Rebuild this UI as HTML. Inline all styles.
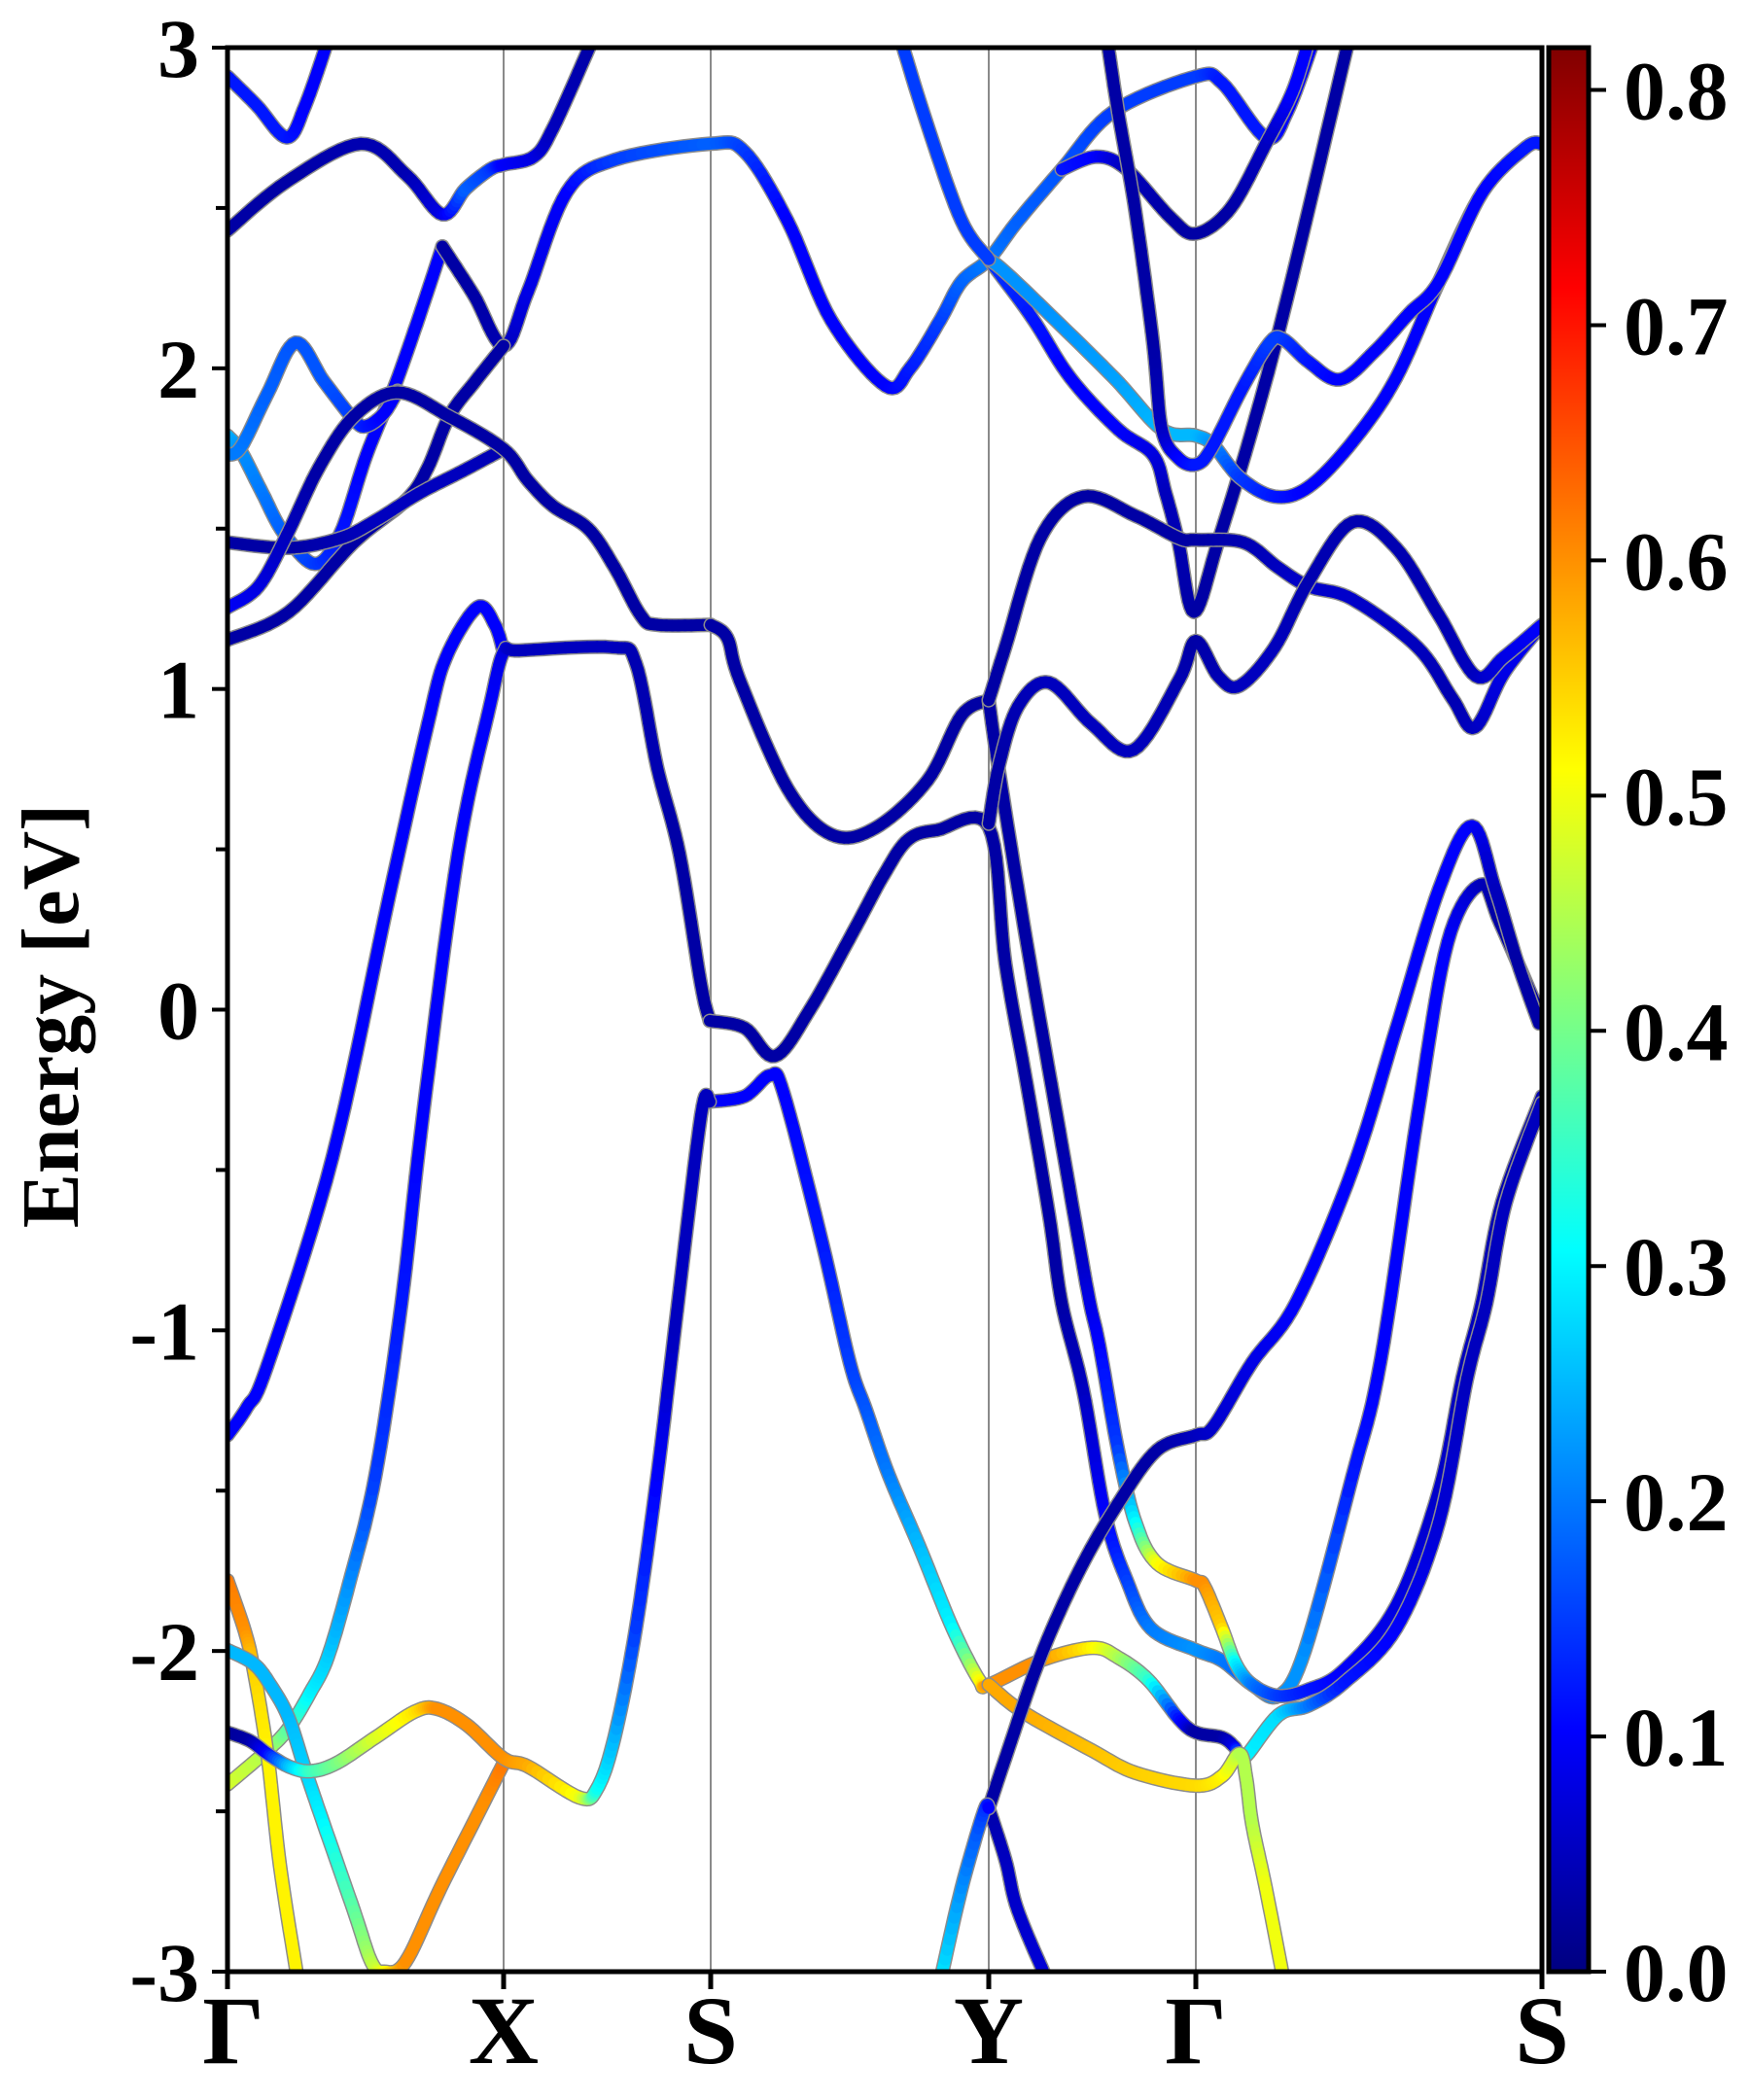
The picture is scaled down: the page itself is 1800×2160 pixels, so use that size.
<!DOCTYPE html>
<html><head><meta charset="utf-8"><style>
html,body{margin:0;padding:0;background:#fff;}
svg{display:block;}
text{font-family:"Liberation Serif","Times New Roman",serif;font-weight:bold;}
</style></head><body>
<svg id="chart" width="1800" height="2160" viewBox="0 0 1800 2160" xmlns="http://www.w3.org/2000/svg" font-family="Liberation Serif, serif" font-weight="bold">
<defs>
<clipPath id="plotclip"><rect x="234" y="49" width="1352" height="1979"/></clipPath>
<linearGradient id="jetgrad" x1="0" y1="1" x2="0" y2="0">
<stop offset="0" stop-color="#000080"/><stop offset="0.125" stop-color="#0000ff"/>
<stop offset="0.375" stop-color="#00ffff"/><stop offset="0.625" stop-color="#ffff00"/><stop offset="0.875" stop-color="#ff0000"/><stop offset="1" stop-color="#800000"/>
</linearGradient>
</defs>
<g id="grid"></g>
<g id="bands" clip-path="url(#plotclip)"></g>
<rect x="234" y="49" width="1352" height="1979" fill="none" stroke="#000" stroke-width="5"/>
<g id="axes"></g>
<text font-family="Liberation Serif, serif" font-weight="bold" x="0" y="0" transform="translate(80,1045) rotate(-90)" text-anchor="middle" font-size="84">Energy [eV]</text>
<rect x="1593" y="49" width="41" height="1979" fill="url(#jetgrad)" stroke="#000" stroke-width="5"/>
<g id="cbar"></g>
</svg>
<script>
const kTicks = [0, 284, 497, 783, 996, 1352];
const kLabels = ["Γ","X","S","Y","Γ","S"];
const eTicks = [3,2,1,0,-1,-2,-3];
const cbTicks = [0.0,0.1,0.2,0.3,0.4,0.5,0.6,0.7,0.8];
const b01=[[0,2.91,0.12],[30,2.82,0.12],[61,2.72,0.12],[80,2.82,0.1],[103,3.02,0.1]];
const b02=[[0,2.43,0.03],[60,2.58,0.03],[137,2.70,0.04],[185,2.6,0.04],[221,2.48,0.08],[245,2.56,0.18],[270,2.62,0.15],[284,2.635,0.1],[315,2.66,0.08],[335,2.75,0.05],[375,3.02,0.03]];
const b03=[[0,1.79,0.25],[14,1.74,0.22],[36,1.61,0.2],[58,1.485,0.18],[90,1.39,0.15],[116,1.485,0.12],[143,1.73,0.1],[172,1.945,0.1],[197,2.16,0.1],[221,2.38,0.1]];
const b04=[[221,2.38,0.03],[253,2.23,0.03],[284,2.07,0.04],[309,2.24,0.08],[349,2.55,0.1],[398,2.65,0.15],[496,2.70,0.18],[532,2.675,0.15],[576,2.46,0.1],[621,2.15,0.1],[677,1.945,0.1],[702,2.0,0.12],[733,2.15,0.15],[755,2.27,0.18],[783,2.34,0.2],[813,2.46,0.18],[858,2.62,0.17],[911,2.8,0.15],[996,2.91,0.15],[1023,2.89,0.12],[1068,2.72,0.12],[1090,2.8,0.1],[1117,3.02,0.1]];
const b05=[[0,1.73,0.2],[14,1.755,0.2],[41,1.92,0.18],[70,2.08,0.17],[99,1.96,0.17],[130,1.84,0.15],[143,1.82,0.12],[161,1.86,0.1],[175,1.93,0.1]];
const b06=[[0,1.153,0.03],[63,1.24,0.03],[130,1.457,0.03],[184,1.59,0.03],[206,1.69,0.03],[228,1.85,0.03],[255,1.96,0.03],[284,2.07,0.03]];
const b07=[[0,1.457,0.03],[63,1.44,0.03],[116,1.47,0.04],[152,1.525,0.05],[197,1.61,0.05],[242,1.68,0.05],[284,1.748,0.04]];
const b08=[[0,1.254,0.1],[32,1.32,0.08],[61,1.48,0.05],[94,1.69,0.03],[130,1.85,0.03],[175,1.925,0.03],[228,1.85,0.03],[284,1.748,0.03],[309,1.65,0.03],[335,1.57,0.03],[371,1.50,0.03],[398,1.38,0.03],[425,1.23,0.03],[442,1.2,0.03],[497,1.2,0.03]];
const b09=[[497,1.2,0.03],[514,1.16,0.03],[527,1.026,0.03],[576,0.69,0.03],[621,0.546,0.03],[666,0.566,0.03],[720,0.715,0.03],[755,0.918,0.03],[783,0.965,0.03]];
const b10=[[0,-1.327,0.1],[20,-1.24,0.1],[41,-1.11,0.1],[108,-0.46,0.1],[166,0.35,0.1],[206,0.89,0.1],[225,1.1,0.1],[257,1.255,0.1],[275,1.2,0.1],[284,1.115,0.1]];
const b11=[[0,-2.416,0.48],[41,-2.31,0.45],[63,-2.24,0.38],[85,-2.13,0.3],[103,-2.02,0.27],[125,-1.79,0.22],[152,-1.455,0.15],[179,-0.914,0.12],[201,-0.33,0.1],[237,0.485,0.1],[270,0.95,0.1],[284,1.115,0.08],[300,1.12,0.05],[396,1.13,0.05],[420,1.08,0.04],[442,0.755,0.04],[465,0.485,0.03],[487,0.079,0.03],[496,-0.035,0.03]];
const b12=[[496,-0.035,0.03],[532,-0.057,0.03],[563,-0.145,0.03],[599,0.0,0.03],[643,0.24,0.03],[675,0.42,0.03],[700,0.53,0.03],[730,0.56,0.03],[783,0.57,0.03],[800,0.146,0.03],[822,-0.23,0.03],[845,-0.64,0.03],[858,-0.914,0.03],[880,-1.185,0.05],[903,-1.577,0.1],[925,-1.78,0.15],[950,-1.93,0.2],[996,-1.997,0.22],[1023,-2.03,0.2],[1054,-2.105,0.18],[1081,-2.14,0.22],[1108,-2.0,0.22],[1157,-1.455,0.12],[1186,-1.096,0.1],[1224,-0.33,0.1],[1255,0.21,0.1],[1289,0.39,0.05],[1309,0.27,0.03],[1352,-0.03,0.03]];
const b13=[[783,0.965,0.03],[793,0.755,0.03],[822,0.21,0.03],[853,-0.33,0.03],[876,-0.73,0.05],[887,-0.914,0.08],[897,-1.05,0.1],[916,-1.374,0.15],[934,-1.6,0.3],[956,-1.726,0.5],[996,-1.78,0.6],[1005,-1.8,0.6],[1023,-1.93,0.55],[1037,-2.04,0.3],[1054,-2.105,0.2],[1081,-2.14,0.15],[1112,-2.12,0.12],[1148,-2.06,0.1],[1202,-1.86,0.08],[1246,-1.5,0.06],[1270,-1.15,0.05],[1290,-0.914,0.05],[1311,-0.6,0.04],[1352,-0.27,0.04]];
const b14=[[496,-0.287,0.1],[532,-0.27,0.1],[558,-0.205,0.1],[572,-0.26,0.1],[612,-0.73,0.12],[640,-1.1,0.15],[657,-1.25,0.17],[680,-1.45,0.2],[711,-1.67,0.25],[746,-1.93,0.3],[773,-2.09,0.5],[783,-2.105,0.6],[836,-2.03,0.6],[889,-1.99,0.52],[916,-2.02,0.45],[947,-2.09,0.35],[978,-2.21,0.12],[996,-2.254,0.03],[1023,-2.27,0.03],[1036,-2.3,0.08],[1045,-2.335,0.3],[1081,-2.2,0.28],[1112,-2.17,0.2],[1148,-2.1,0.12],[1202,-1.93,0.1],[1246,-1.6,0.07],[1275,-1.15,0.05],[1295,-0.914,0.05],[1315,-0.6,0.05],[1352,-0.29,0.05]];
const b16=[[783,-2.105,0.58],[818,-2.19,0.58],[889,-2.31,0.56],[934,-2.38,0.55],[996,-2.42,0.54],[1023,-2.39,0.52],[1041,-2.32,0.45],[1048,-2.4,0.45],[1054,-2.54,0.45],[1068,-2.74,0.5],[1086,-3.02,0.5]];
const b17=[[0,-1.78,0.62],[18,-1.94,0.6],[27,-2.06,0.55],[41,-2.32,0.52],[54,-2.67,0.52],[72,-3.02,0.52]];
const b18=[[0,-1.997,0.25],[27,-2.04,0.25],[45,-2.11,0.25],[63,-2.21,0.25],[81,-2.38,0.27],[99,-2.54,0.3],[130,-2.81,0.38],[148,-2.97,0.45],[161,-3.0,0.5],[183,-2.97,0.6],[219,-2.74,0.6],[264,-2.47,0.6],[284,-2.35,0.62]];
const b19=[[0,-2.254,0.02],[23,-2.28,0.03],[41,-2.32,0.1],[63,-2.36,0.25],[85,-2.375,0.35],[112,-2.35,0.4],[152,-2.27,0.48],[192,-2.19,0.53],[215,-2.18,0.6],[246,-2.23,0.6],[284,-2.335,0.6],[309,-2.36,0.58],[362,-2.457,0.5],[380,-2.43,0.32],[398,-2.27,0.25],[420,-1.93,0.15],[442,-1.455,0.1],[460,-1.0,0.05],[487,-0.33,0.05],[496,-0.287,0.05]];
const b20=[[783,-2.49,0.03],[800,-2.335,0.03],[836,-2.02,0.03],[876,-1.75,0.03],[916,-1.54,0.03],[956,-1.374,0.03],[996,-1.327,0.05],[1014,-1.3,0.06],[1054,-1.1,0.08],[1099,-0.914,0.1],[1157,-0.5,0.1],[1202,-0.06,0.1],[1246,0.376,0.1],[1280,0.573,0.1],[1304,0.376,0.05],[1327,0.146,0.03],[1349,-0.043,0.03]];
const b21=[[783,-2.49,0.03],[800,-2.65,0.05],[813,-2.81,0.06],[845,-3.04,0.07]];
const b22=[[733,-3.03,0.3],[755,-2.74,0.22],[778,-2.5,0.15],[783,-2.49,0.1]];
const b23=[[783,2.34,0.15],[827,2.16,0.12],[867,1.97,0.1],[916,1.81,0.1],[952,1.73,0.08],[965,1.61,0.05],[978,1.46,0.04],[994,1.24,0.03],[1019,1.46,0.03],[1054,1.81,0.03],[1090,2.22,0.03],[1153,3.02,0.03]];
const b24=[[783,2.34,0.22],[800,2.30,0.22],[845,2.17,0.22],[912,1.97,0.23],[961,1.81,0.25],[996,1.79,0.25],[1014,1.76,0.22],[1041,1.66,0.15],[1077,1.6,0.12],[1112,1.63,0.1],[1157,1.77,0.1],[1202,1.97,0.1],[1246,2.27,0.1],[1291,2.55,0.12],[1336,2.69,0.15],[1352,2.70,0.15]];
const b25=[[693,3.02,0.15],[720,2.757,0.15],[755,2.46,0.15],[783,2.34,0.15]];
const b26=[[858,2.62,0.12],[894,2.66,0.1],[925,2.62,0.05],[970,2.47,0.03],[996,2.42,0.03],[1032,2.5,0.03],[1068,2.70,0.05],[1095,2.86,0.1],[1112,3.02,0.1]];
const b27=[[905,3.02,0.03],[916,2.8,0.03],[934,2.486,0.03],[952,2.08,0.03],[961,1.81,0.05],[978,1.72,0.1],[996,1.70,0.12],[1012,1.75,0.12],[1045,1.945,0.12],[1072,2.08,0.15],[1086,2.09,0.15],[1112,2.02,0.12],[1144,1.965,0.1],[1179,2.05,0.1],[1215,2.17,0.1],[1246,2.27,0.1],[1291,2.55,0.1],[1336,2.69,0.12],[1352,2.7,0.12]];
const b28=[[783,0.965,0.03],[800,1.13,0.03],[836,1.47,0.03],[880,1.6,0.03],[934,1.54,0.03],[979,1.47,0.03],[996,1.465,0.03],[1045,1.457,0.04],[1080,1.38,0.05],[1112,1.32,0.06],[1157,1.28,0.06],[1224,1.13,0.05],[1260,0.97,0.04],[1283,0.88,0.05],[1313,1.05,0.08],[1352,1.2,0.1]];
const b29=[[783,0.58,0.03],[793,0.755,0.03],[813,0.945,0.04],[845,1.02,0.05],[889,0.89,0.05],[932,0.81,0.05],[979,1.03,0.04],[996,1.15,0.03],[1019,1.04,0.04],[1041,1.01,0.05],[1077,1.13,0.05],[1112,1.335,0.04],[1157,1.52,0.04],[1202,1.44,0.04],[1246,1.23,0.04],[1284,1.04,0.05],[1313,1.1,0.08],[1352,1.2,0.1]];
const allBands=[b01,b02,b03,b04,b05,b06,b07,b08,b09,b10,b11,b12,b13,b14,b16,b17,b18,b19,b20,b21,b22,b23,b24,b25,b26,b27,b28,b29];

const NS="http://www.w3.org/2000/svg";
const X0=234,X1=1586,Y0=49,Y1=2028,KMAX=1352,EMIN=-3,EMAX=3,VMAX=0.818;
function xs(k){return X0+(k/KMAX)*(X1-X0);}
function ys(e){return Y1-(e-EMIN)/(EMAX-EMIN)*(Y1-Y0);}
function clamp(v){return Math.max(0,Math.min(1,v));}
function jet(w){const v=clamp(w/VMAX);const r=clamp(1.5-Math.abs(4*v-3)),g=clamp(1.5-Math.abs(4*v-2)),b=clamp(1.5-Math.abs(4*v-1));
return "rgb("+Math.round(r*255)+","+Math.round(g*255)+","+Math.round(b*255)+")";}
function mk(tag,attrs,parent){const el=document.createElementNS(NS,tag);for(const a in attrs)el.setAttribute(a,attrs[a]);parent.appendChild(el);return el;}

const grid=document.getElementById('grid');
kTicks.slice(1,-1).forEach(k=>{
 const l=mk('line',{x1:xs(k),x2:xs(k),y1:Y0,y2:Y1,stroke:'#8a8a8a','stroke-width':2},grid);
 
 
});

function smooth(pts){
 const out=[];const n=pts.length;
 for(let i=0;i<n-1;i++){
  const p0=pts[Math.max(0,i-1)],p1=pts[i],p2=pts[i+1],p3=pts[Math.min(n-1,i+2)];
  const steps=10;
  for(let s=0;s<steps;s++){
   const t=s/steps,t2=t*t,t3=t2*t;
   const f=(a,b,c,d)=>0.5*((2*b)+(-a+c)*t+(2*a-5*b+4*c-d)*t2+(-a+3*b-3*c+d)*t3);
   out.push([f(p0[0],p1[0],p2[0],p3[0]),f(p0[1],p1[1],p2[1],p3[1]),p1[2]+(p2[2]-p1[2])*t]);
  }
 }
 out.push(pts[n-1]);return out;
}
const bandsG=document.getElementById('bands');
allBands.forEach((b,bi)=>{
 const g=mk('g',{},bandsG);
 
 
 const sp=smooth(b);
 const d=sp.map((p,i)=>(i?'L':'M')+xs(p[0]).toFixed(1)+','+ys(p[1]).toFixed(1)).join('');
 mk('path',{d:d,fill:'none',stroke:'#8c8c8c','stroke-width':15,'stroke-linecap':'round','stroke-linejoin':'round'},g);
 for(let i=0;i<sp.length-1;i++){
  mk('line',{x1:xs(sp[i][0]).toFixed(1),y1:ys(sp[i][1]).toFixed(1),x2:xs(sp[i+1][0]).toFixed(1),y2:ys(sp[i+1][1]).toFixed(1),
   stroke:jet((sp[i][2]+sp[i+1][2])/2),'stroke-width':12,'stroke-linecap':'round'},g);
 }
});

const axes=document.getElementById('axes');
const FF="Liberation Serif, serif";
kTicks.forEach((k,i)=>{
 const t=mk('line',{x1:xs(k),x2:xs(k),y1:Y1,y2:Y1+18,stroke:'#000','stroke-width':5},axes);
 
 
 const lb=mk('text',{x:xs(k)+(i==0?6:0),y:2122,'text-anchor':'middle','font-size':100,'font-family':FF,'font-weight':'bold'},axes);
 
 
 lb.textContent=kLabels[i];
});
for(let e=-3;e<=3.001;e+=0.5){
 const t=mk('line',{x1:X0-(Number.isInteger(e)?16:12),x2:X0,y1:ys(e),y2:ys(e),stroke:'#000','stroke-width':4},axes);
 
 
}
eTicks.forEach(e=>{
 const lb=mk('text',{x:205,y:ys(e)+30,'text-anchor':'end','font-size':86,'font-family':FF,'font-weight':'bold'},axes);
 
 
 lb.textContent=String(e);
});
const cbar=document.getElementById('cbar');
cbTicks.forEach(v=>{
 const y=Y1-(v/VMAX)*(Y1-Y0);
 const t=mk('line',{x1:1634,x2:1652,y1:y,y2:y,stroke:'#000','stroke-width':4},cbar);
 
 
 const lb=mk('text',{x:1670,y:y+30,'font-size':86,'font-family':FF,'font-weight':'bold'},cbar);
 
 
 lb.textContent=v.toFixed(1);
});
</script>
</body></html>
